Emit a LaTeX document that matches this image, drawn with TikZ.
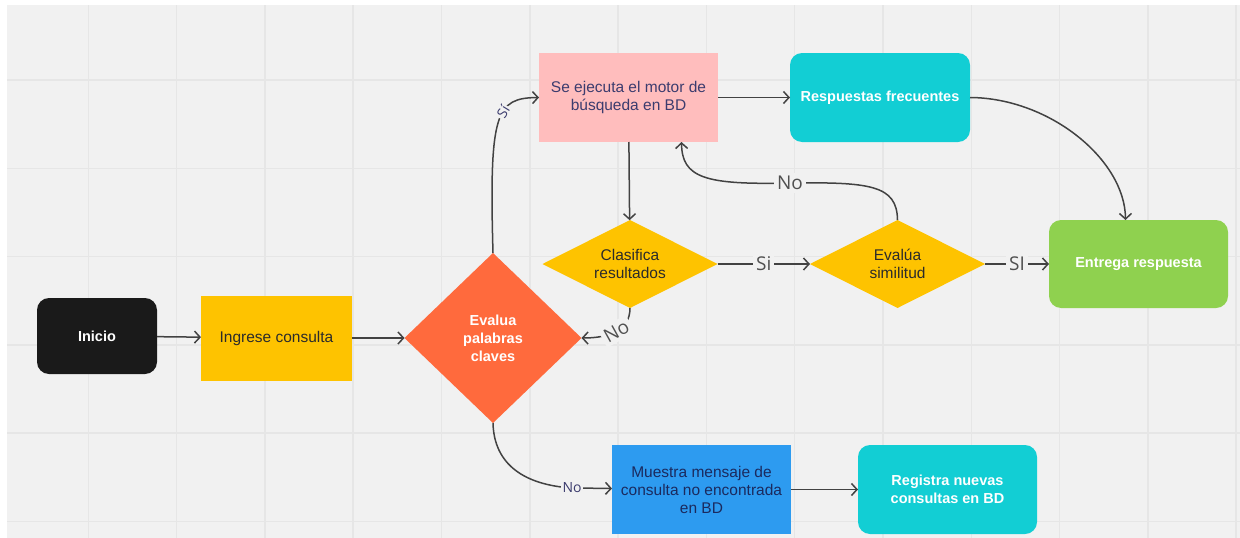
\documentclass[tikz,border=0pt]{standalone}
\usepackage{fontspec}
\setmainfont{Liberation Sans}
\newfontfamily\lblfont{Open Sans}
\usetikzlibrary{arrows.meta,shapes.geometric}

\definecolor{fondo}{HTML}{F1F1F1}
\definecolor{rejilla}{HTML}{E6E6E6}
\definecolor{negro}{HTML}{1A1A1A}
\definecolor{amarillo}{HTML}{FEC300}
\definecolor{naranja}{HTML}{FF6A3D}
\definecolor{rosa}{HTML}{FFBDBD}
\definecolor{turquesa}{HTML}{12CED4}
\definecolor{verde}{HTML}{8FD14F}
\definecolor{azul}{HTML}{2D9BF0}
\definecolor{linea}{HTML}{424242}
\definecolor{oscuro}{HTML}{2B2B2B}
\definecolor{morado}{HTML}{3C3C6E}
\definecolor{marino}{HTML}{1B2A5E}
\definecolor{gris}{HTML}{505050}

\begin{document}
\begin{tikzpicture}
	[x=1pt,y=-1pt,
	every node/.style={align=center,inner sep=2pt,outer sep=0pt,text=oscuro,
		font=\fontsize{15.5}{18}\selectfont},
	caja/.style 2 args={rectangle,minimum width=#1,minimum height=#2},
	redonda/.style 2 args={rectangle,rounded corners=12pt,minimum width=#1,minimum height=#2,
		text=white,font=\fontsize{14.5}{18}\selectfont\bfseries},
	rombo/.style 2 args={diamond,aspect=2,inner sep=0pt,minimum width=#1,minimum height=#2},
	edge/.style={draw=linea,line width=1.5pt,-{Straight Barb[length=5.5pt,width=12pt,line width=1.5pt]}},
	lbl/.style={fill=fondo,text=gris,inner sep=3pt,font=\lblfont\fontsize{19}{20}\selectfont},
	lblsm/.style={fill=fondo,text=morado,inner sep=1.5pt,font=\lblfont\fontsize{14}{16}\selectfont}]

	\useasboundingbox (0,0) rectangle (1240,538);
	\fill[white] (0,0) rectangle (1240,538);
	\fill[fondo] (7,5) rectangle (1240,538);
	\foreach \i in {1,...,14}
		\draw[rejilla,line width=1.5pt] (\i*88.3,5) -- (\i*88.3,538);
	\foreach \j in {0,...,5}
		\draw[rejilla,line width=1.5pt] (7,80+\j*88.3) -- (1240,80+\j*88.3);

	\node[redonda={120}{76},fill=negro] (n0) at (97,336) {Inicio};
	\node[caja={151}{85},fill=amarillo] (n1) at (276.5,338) {Ingrese consulta};
	\node[rombo={177}{170},fill=naranja,text=white,font=\fontsize{14.5}{18}\selectfont\bfseries] (n2) at (493,338) {Evalua\\palabras\\claves};
	\node[caja={179}{89},fill=rosa,text=morado] (n3) at (628.5,97.5) {Se ejecuta el motor de\\búsqueda en BD};
	\node[redonda={180}{89},fill=turquesa] (n4) at (880,97.5) {Respuestas frecuentes};
	\node[rombo={175}{88},fill=amarillo] (n5) at (630,264) {Clasifica\\resultados};
	\node[rombo={175}{88},fill=amarillo] (n6) at (897.5,264) {Evalúa\\similitud};
	\node[redonda={179}{88},fill=verde] (n7) at (1138.5,264) {Entrega respuesta};
	\node[caja={179}{89},fill=azul,text=marino] (n8) at (701.5,489.5) {Muestra mensaje de\\consulta no encontrada\\en BD};
	\node[redonda={179}{89},fill=turquesa] (n9) at (947.5,489.5) {Registra nuevas\\consultas en BD};

	\draw[edge] (n0) -- (n1);
	\draw[edge] (n1) -- (n2);
	\draw[edge] (n2.north) .. controls (489,112) and (496,98) .. node[lblsm,sloped,pos=0.6] {Sí} (n3.west);
	\draw[edge] (n3) -- (n4);
	\draw[edge] (n3) -- (n5);
	\draw[edge] (n4.east) .. controls (1050,98) and (1125,160) .. ([xshift=-13pt]n7.north);
	\draw[edge] (n5) -- node[lbl] {Si} (n6);
	\draw[edge] (n6) -- node[lbl] {SI} (n7);
	\draw[edge] (n6.north) .. controls (897,185) and (870,182) .. (790,183) node[lbl] {No}
		.. controls (705,185) and (682,178) .. ([xshift=53pt]n3.south);
	\draw[edge] (n5.south) .. controls (630,330) and (610,338) .. node[lbl,sloped] {No} (n2.east);
	\draw[edge] (n2.south) .. controls (494,465) and (525,485) .. (572,488) node[lblsm] {No} -- (n8);
	\draw[edge] (n8) -- (n9);
\end{tikzpicture}
\end{document}
